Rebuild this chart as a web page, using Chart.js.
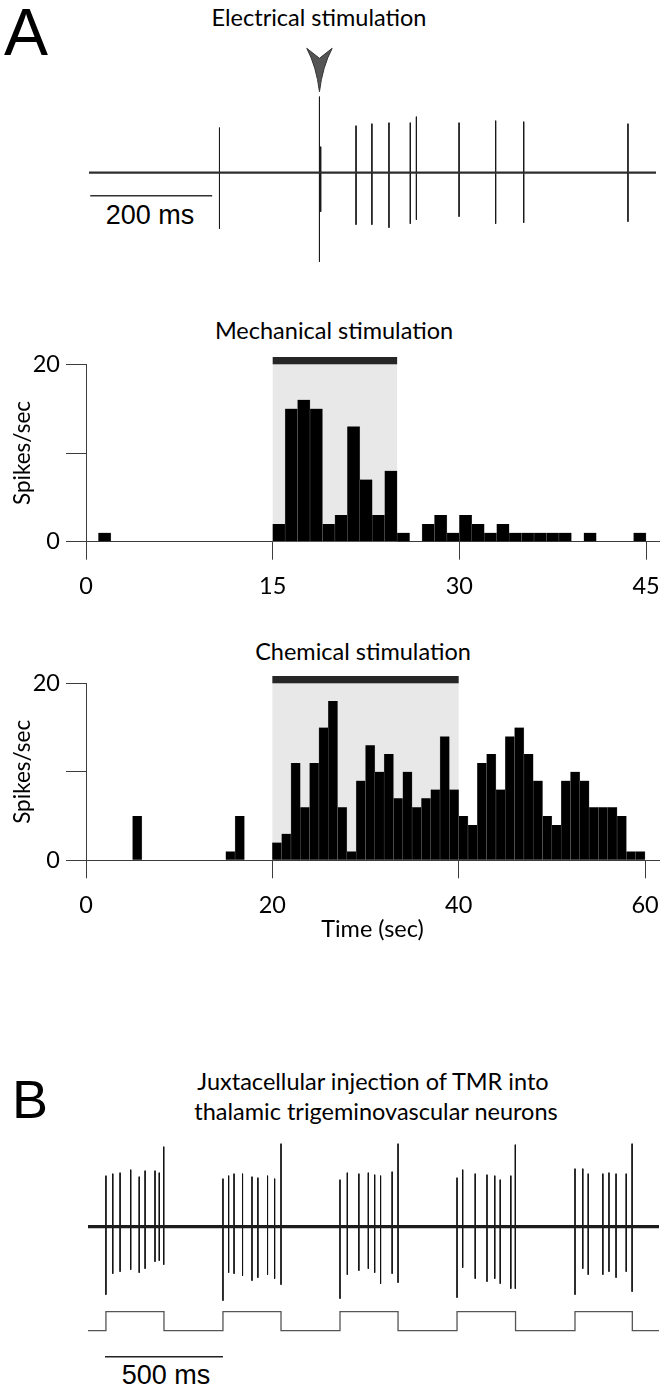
<!DOCTYPE html>
<html>
<head>
<meta charset="utf-8">
<script src="https://cdn.jsdelivr.net/npm/chart.js@4.4.0/dist/chart.umd.min.js"></script>
<style>
html, body { margin: 0; padding: 0; background: #fff; }
#page { position: relative; width: 664px; height: 1390px; overflow: hidden; font-family: Lato, sans-serif; color: #000; }
canvas { position: absolute; left: 0; }
.t { position: absolute; white-space: nowrap; line-height: 1; transform: translateX(-50%); }
.title { font-size: 23.5px; }
.sans { font-family: "Liberation Sans", Arial, sans-serif; }
</style>
</head>
<body>
<div id="page">
  <div class="t sans" style="left:26px; top:-1px; font-size:66px;">A</div>
  <div class="t title" style="left:319px; top:6px;">Electrical stimulation</div>
  <div class="t sans" style="left:150px; top:202px; font-size:27px;">200 ms</div>
  <div class="t title" style="left:334px; top:319px;">Mechanical stimulation</div>
  <div class="t title" style="left:363px; top:640px;">Chemical stimulation</div>
  <div class="t sans" style="left:30px; top:1072px; font-size:54px;">B</div>
  <div class="t title" style="left:373px; top:1070px;">Juxtacellular injection of TMR into</div>
  <div class="t title" style="left:376px; top:1100px;">thalamic trigeminovascular neurons</div>
  <div class="t sans" style="left:166px; top:1362px; font-size:27px;">500 ms</div>

  <canvas id="traceA" width="664" height="240" style="top:40px"></canvas>
  <canvas id="mech" width="664" height="320" style="top:300px"></canvas>
  <canvas id="chem" width="664" height="330" style="top:620px"></canvas>
  <canvas id="traceB" width="664" height="240" style="top:1130px"></canvas>
</div>

<script>
// ---- panel A, single sweep (ms, amplitude in arbitrary units) ----
const sweepA = [0, 930];
const spikeTimesA = [214, 378, 380, 438, 464, 492, 527, 537, 607, 667, 713, 884];
const spikeUpA    = [45, 76, 26, 47, 49, 50, 50, 56, 50, 52, 51, 49];
const spikeDownA  = [56, 89, 39, 52, 52, 55, 51, 47, 44, 51, 50, 49];
const stimTimeA = 378;
const scaleBarA = [2, 202];   // 200 ms
const scaleBarLevelA = -23;

// ---- histograms, 1 s bins (spikes/sec) ----
const mechRate = [0,1,0,0,0,0,0,0,0,0,0,0,0,0,0,2,15,16,15,2,3,13,7,3,8,1,0,2,3,1,3,2,1,2,1,1,1,1,1,0,1,0,0,0,1];
const mechStim = [15, 25];
const mechTicks = [0, 15, 30, 45];

const chemRate = [0,0,0,0,0,5,0,0,0,0,0,0,0,0,0,1,5,0,0,0,
  2,3,11,6,11,15,18,6,1,9,13,10,12,7,10,6,7,8,14,8,
  5,4,11,12,8,14,15,12,9,5,4,9,10,9,6,6,6,5,1,1];
const chemStim = [20, 40];
const chemTicks = [0, 20, 40, 60];

const yTicks = [0, 10, 20];
const yTickLabels = ['0', '', '20'];

// ---- panel B, juxtacellular recording (ms) ----
const sweepB = [0, 2420];
const spikeTimesB = [76,105,136,181,217,242,284,302,321,
  572,596,619,655,695,720,761,791,818,
  1068,1099,1148,1188,1215,1240,1289,1314,
  1564,1588,1641,1691,1724,1747,1792,1811,
  2064,2097,2120,2182,2208,2238,2281,2306];
const spikeUpB = [51,53,54,57,50,56,56,54,80,
  48,51,53,53,50,49,51,48,83,
  47,54,53,54,52,51,55,83,
  49,57,53,52,51,47,51,82,
  58,58,53,53,54,53,53,83];
const spikeDownB = [68,47,45,43,46,42,35,34,38,
  74,46,47,49,54,51,48,52,58,
  72,48,44,42,46,57,47,56,
  71,41,52,55,52,57,62,62,
  68,42,48,48,45,51,45,65];
const pulseOnB  = [76, 572, 1068, 1564, 2064];
const pulseOffB = [322, 818, 1314, 1812, 2307];
const pulseLow = -104, pulseHigh = -85;
const scaleBarB = [72, 572];  // 500 ms
const scaleBarLevelB = -130;

function spikePoints(times, ups, downs) {
  const pts = [];
  times.forEach((t, i) => {
    pts.push({x: t, y: ups[i]}, {x: t, y: -downs[i]}, {x: t, y: null});
  });
  return pts;
}

function pulsePoints(ons, offs, end) {
  const pts = [{x: 0, y: pulseLow}];
  ons.forEach((on, i) => {
    pts.push({x: on, y: pulseLow}, {x: on, y: pulseHigh}, {x: offs[i], y: pulseHigh}, {x: offs[i], y: pulseLow});
  });
  pts.push({x: end, y: pulseLow});
  return pts;
}

const line = (data, color, width) => ({
  type: 'line', data, borderColor: color, borderWidth: width,
  pointRadius: 0, tension: 0, spanGaps: false, clip: false
});

const arrowPlugin = {
  id: 'arrow',
  afterDatasetsDraw(chart) {
    const {ctx, scales: {x, y}} = chart;
    const cx = x.getPixelForValue(stimTimeA);
    const tip = y.getPixelForValue(spikeUpA[1]) - 5;
    ctx.save();
    ctx.beginPath();
    ctx.moveTo(cx, tip);
    ctx.quadraticCurveTo(cx + 3, tip - 25, cx + 12.7, tip - 43.4);
    ctx.lineTo(cx, tip - 33.4);
    ctx.lineTo(cx - 12.7, tip - 43.4);
    ctx.quadraticCurveTo(cx - 3, tip - 25, cx, tip);
    ctx.fillStyle = '#555';
    ctx.fill();
    ctx.strokeStyle = '#333';
    ctx.lineWidth = 1;
    ctx.stroke();
    ctx.restore();
  }
};

function traceOptions(sweep, yMin, yMax, padL, padR) {
  return {
    responsive: false, animation: false,
    layout: {padding: {left: padL, right: padR, top: 0, bottom: 0}},
    plugins: {legend: {display: false}, tooltip: {enabled: false}},
    scales: {
      x: {type: 'linear', display: false, min: sweep[0], max: sweep[1]},
      y: {display: false, min: yMin, max: yMax}
    }
  };
}

new Chart(document.getElementById('traceA'), {
  type: 'line',
  data: {datasets: [
    line([{x: sweepA[0], y: 0}, {x: sweepA[1], y: 0}], '#2e2e2e', 2.2),
    line(spikePoints(spikeTimesA, spikeUpA, spikeDownA), '#1a1a1a', 1),
    line([{x: scaleBarA[0], y: scaleBarLevelA}, {x: scaleBarA[1], y: scaleBarLevelA}], '#333', 1.5)
  ]},
  options: traceOptions(sweepA, -107.3, 132.7, 89, 8),
  plugins: [arrowPlugin]
});

const stimPlugin = {
  id: 'stim',
  beforeDatasetsDraw(chart, args, opts) {
    const {ctx, scales: {x, y}} = chart;
    const x0 = x.getPixelForValue(opts.window[0]);
    const x1 = x.getPixelForValue(opts.window[1]);
    const top = y.getPixelForValue(y.max);
    const bot = y.getPixelForValue(0);
    ctx.save();
    ctx.fillStyle = '#e8e8e8';
    ctx.fillRect(x0, top, x1 - x0, bot - top - 0.5);
    ctx.fillStyle = '#262626';
    ctx.fillRect(x0, top - 7.3, x1 - x0, 7.3);
    ctx.restore();
  }
};

function noEdgePadding(s) {
  s.paddingLeft = 0; s.paddingRight = 0; s.paddingTop = 0; s.paddingBottom = 0;
}

function histogram(id, rates, stim, ticks, xMax, padTop, padBottom, axisH, xTitle) {
  const data = rates.map((v, i) => ({x: i + 0.5, y: v})).filter(p => p.y > 0);
  const axisColor = '#3c3c3c';
  new Chart(document.getElementById(id), {
    type: 'bar',
    data: {datasets: [{
      data, backgroundColor: '#000', borderColor: '#6a6a6a',
      borderWidth: {left: 0.5, right: 0.5, top: 0, bottom: 0}, borderSkipped: false,
      barPercentage: 1, categoryPercentage: 1
    }]},
    options: {
      responsive: false, animation: false,
      layout: {padding: {left: 0, right: 5, top: padTop, bottom: padBottom}},
      plugins: {legend: {display: false}, tooltip: {enabled: false}, stim: {window: stim}},
      scales: {
        x: {
          type: 'linear', min: 0, max: xMax, offset: false,
          afterBuildTicks: s => { s.ticks = ticks.map(v => ({value: v})); },
          afterFit: s => { s.height = axisH; noEdgePadding(s); },
          grid: {offset: false, drawOnChartArea: false, tickLength: 18, color: axisColor, lineWidth: 1},
          border: {display: true, color: axisColor, width: 1},
          ticks: {font: {family: 'Lato', size: 23.5}, color: '#000', padding: 13, maxRotation: 0, autoSkip: false},
          title: {display: !!xTitle, text: xTitle || '', font: {family: 'Lato', size: 23.5}, color: '#000', padding: {top: 0, bottom: 2}}
        },
        y: {
          min: 0, max: 20,
          afterBuildTicks: s => { s.ticks = yTicks.map(v => ({value: v})); },
          afterFit: s => { s.width = 86; noEdgePadding(s); },
          grid: {drawOnChartArea: false, tickLength: 20, color: axisColor, lineWidth: 1},
          border: {display: true, color: axisColor, width: 1},
          ticks: {font: {family: 'Lato', size: 23.5}, color: '#000', padding: 6,
                  callback: v => yTickLabels[yTicks.indexOf(v)]},
          title: {display: true, text: 'Spikes/sec', font: {family: 'Lato', size: 22.5}, color: '#000', padding: {top: 9, bottom: 0}}
        }
      }
    },
    plugins: [stimPlugin]
  });
}

histogram('mech', mechRate, mechStim, mechTicks, 46.04, 64.3, 8.3, 70, null);
histogram('chem', chemRate, chemStim, chemTicks, 61.5, 63.3, 4.7, 85, 'Time (sec)');

new Chart(document.getElementById('traceB'), {
  type: 'line',
  data: {datasets: [
    line([{x: sweepB[0], y: 0}, {x: sweepB[1], y: 0}], '#1c1c1c', 3.2),
    line(spikePoints(spikeTimesB, spikeUpB, spikeDownB), '#111', 1),
    line(pulsePoints(pulseOnB, pulseOffB, sweepB[1]), '#555', 1.3),
    line([{x: scaleBarB[0], y: scaleBarLevelB}, {x: scaleBarB[1], y: scaleBarLevelB}], '#222', 1.6)
  ]},
  options: traceOptions(sweepB, -143.3, 96.7, 88, 5)
});
</script>
</body>
</html>
